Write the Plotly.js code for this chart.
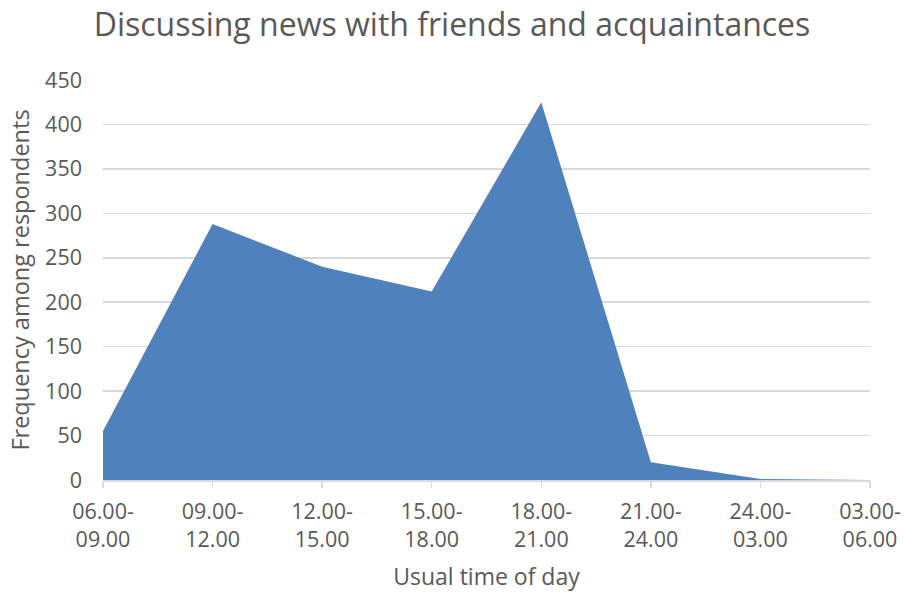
<!DOCTYPE html>
<html>
<head>
<meta charset="utf-8">
<script src="https://cdn.plot.ly/plotly-3.0.1.min.js"></script>
<style>
  html, body { margin: 0; padding: 0; background: #ffffff; }
  #chart { width: 904px; height: 597px; }
</style>
</head>
<body>
<div id="chart"></div>
<script>
// Time-of-day slots (category keys) and their two-line tick labels
const timeSlots = ["06.00-09.00", "09.00-12.00", "12.00-15.00", "15.00-18.00",
                   "18.00-21.00", "21.00-24.00", "24.00-03.00", "03.00-06.00"];
const slotLabels = ["06.00-<br>09.00", "09.00-<br>12.00", "12.00-<br>15.00", "15.00-<br>18.00",
                    "18.00-<br>21.00", "21.00-<br>24.00", "24.00-<br>03.00", "03.00-<br>06.00"];
// Number of respondents who usually discuss news in each slot
const frequency = [55, 288, 240, 212, 425, 20, 1, 0];
const yTicks = [0, 50, 100, 150, 200, 250, 300, 350, 400, 450];

const textColor = "#595959";
const gridColor = "#d9d9d9";
const fontFamily = "'Open Sans', 'Noto Sans', sans-serif";

const trace = {
  type: "scatter",
  mode: "lines",
  x: timeSlots,
  y: frequency,
  fill: "tozeroy",
  fillcolor: "#4f81bd",
  line: { color: "#4f81bd", width: 0 },
  hoverinfo: "x+y"
};

const layout = {
  width: 904,
  height: 597,
  margin: { l: 103, r: 34, t: 80, b: 117 },
  paper_bgcolor: "#ffffff",
  plot_bgcolor: "#ffffff",
  showlegend: false,
  font: { family: fontFamily, color: textColor, size: 22 },
  title: {
    text: "Discussing news with friends and acquaintances",
    font: { family: fontFamily, size: 32, color: textColor },
    x: 0.5, xanchor: "center",
    y: 0.958, yanchor: "middle"
  },
  xaxis: {
    type: "category",
    categoryorder: "array",
    categoryarray: timeSlots,
    tickvals: timeSlots,
    ticktext: slotLabels,
    range: [0, timeSlots.length - 1],
    showgrid: false,
    zeroline: false,
    showline: true,
    linecolor: gridColor,
    linewidth: 1.5,
    ticks: "outside",
    ticklen: 6,
    tickwidth: 1.5,
    tickcolor: gridColor,
    ticklabelstandoff: 6,
    tickfont: { family: fontFamily, size: 21.5, color: textColor },
    title: {
      text: "Usual time of day",
      font: { family: fontFamily, size: 23, color: textColor },
      standoff: 16
    },
    fixedrange: true
  },
  yaxis: {
    range: [0, 450],
    tickvals: yTicks,
    ticktext: yTicks.map(String),
    showgrid: true,
    gridcolor: gridColor,
    gridwidth: 1.5,
    zeroline: false,
    showline: false,
    ticks: "",
    ticklabelstandoff: 20,
    tickfont: { family: fontFamily, size: 21.5, color: textColor },
    title: {
      text: "Frequency among respondents",
      font: { family: fontFamily, size: 23.5, color: textColor },
      standoff: 8
    },
    fixedrange: true
  }
};

Plotly.newPlot("chart", [trace], layout, { displayModeBar: false, staticPlot: true });
</script>
</body>
</html>
